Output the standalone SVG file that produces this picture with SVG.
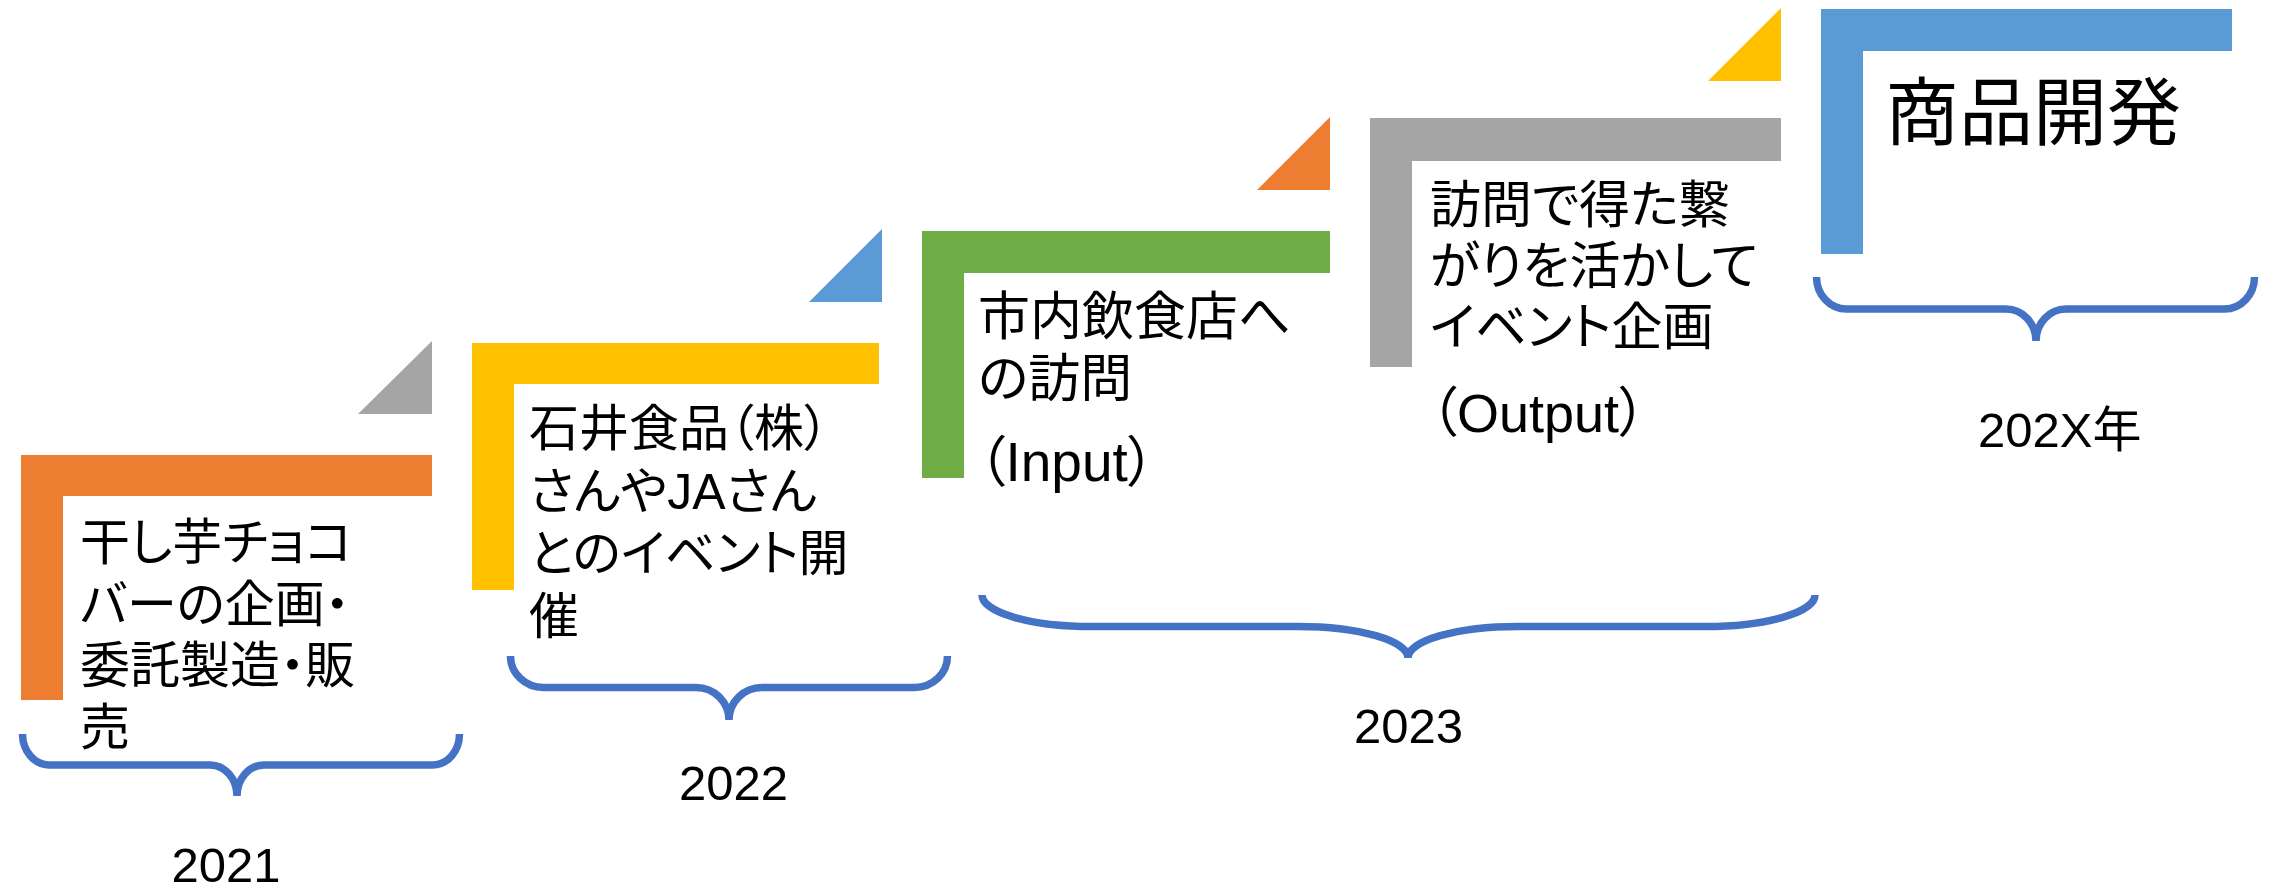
<svg xmlns="http://www.w3.org/2000/svg" width="2275" height="888" viewBox="0 0 2275 888">
<style>
.txt{font-family:"Liberation Sans","Noto Sans CJK JP",sans-serif;fill:#000;font-feature-settings:"palt"}
.brace{fill:none;stroke:#4472C4;stroke-width:7.5}
.orange{fill:#ED7D31}.yellow{fill:#FFC000}.green{fill:#70AD47}.gray{fill:#A5A5A5}.blue{fill:#5B9BD5}
</style>
<rect width="2275" height="888" fill="#fff"/>
<g id="step1">
<polygon class="gray" points="358,414 432,341 432,414"/>
<path class="orange" d="M21,455H432V496H63V700H21Z"/>
<text class="txt" font-size="50"><tspan x="80" y="560">干し芋チョコ</tspan><tspan x="80" y="622">バーの企画・</tspan><tspan x="80" y="683">委託製造・販</tspan><tspan x="80" y="745">売</tspan></text>
</g>
<g id="step2">
<polygon class="blue" points="809,302 882,229 882,302"/>
<path class="yellow" d="M472,343H879V384H514V590H472Z"/>
<text class="txt" font-size="50"><tspan x="529" y="446">石井食品（株）</tspan><tspan x="529" y="509">さんやJAさん</tspan><tspan x="529" y="571">とのイベント開</tspan><tspan x="529" y="634">催</tspan></text>
</g>
<g id="step3">
<polygon class="orange" points="1257,190 1330,117 1330,190"/>
<path class="green" d="M922,231H1330V273H964V478H922Z"/>
<text class="txt" font-size="52"><tspan x="978" y="335">市内飲食店へ</tspan><tspan x="978" y="397">の訪問</tspan><tspan x="978" y="481" font-size="55">（Input）</tspan></text>
</g>
<g id="step4">
<polygon class="yellow" points="1708,81 1781,8 1781,81"/>
<path class="gray" d="M1370,118H1781V161H1412V367H1370Z"/>
<text class="txt" font-size="51"><tspan x="1430" y="223">訪問で得た繋</tspan><tspan x="1430" y="284">がりを活かして</tspan><tspan x="1430" y="345">イベント企画</tspan><tspan x="1430" y="432" font-size="54">（Output）</tspan></text>
</g>
<g id="step5">
<path class="blue" d="M1821,9H2232V51H1863V254H1821Z"/>
<text class="txt" font-size="74" x="1885" y="139">商品開発</text>
</g>
<g id="period2021">
<path class="brace" d="M22.5,734A27,31 0 0 0 49.5,765H210A27,31 0 0 1 237,796A27,31 0 0 1 264,765H432.5A27,31 0 0 0 459.5,734"/>
<text class="txt" font-size="49" x="226" y="882" text-anchor="middle">2021</text>
</g>
<g id="period2022">
<path class="brace" d="M510.5,656A33,31.5 0 0 0 543.5,687.5H696A33,32.5 0 0 1 729,720A33,32.5 0 0 1 762,687.5H914.5A33,31.5 0 0 0 947.5,656"/>
<text class="txt" font-size="49" x="733.5" y="800" text-anchor="middle">2022</text>
</g>
<g id="period2023">
<path class="brace" d="M982,595A110,31.5 0 0 0 1092,626.5H1298A110,31.5 0 0 1 1408,658A110,31.5 0 0 1 1518,626.5H1705A110,31.5 0 0 0 1815,595"/>
<text class="txt" font-size="49" x="1408.5" y="743" text-anchor="middle">2023</text>
</g>
<g id="period202X">
<path class="brace" d="M1816.5,277A30,32 0 0 0 1846.5,309H2006A30,32 0 0 1 2036,341A30,32 0 0 1 2066,309H2224.5A30,32 0 0 0 2254.5,277"/>
<text class="txt" font-size="49" x="1978" y="447">202X年</text>
</g>
</svg>
